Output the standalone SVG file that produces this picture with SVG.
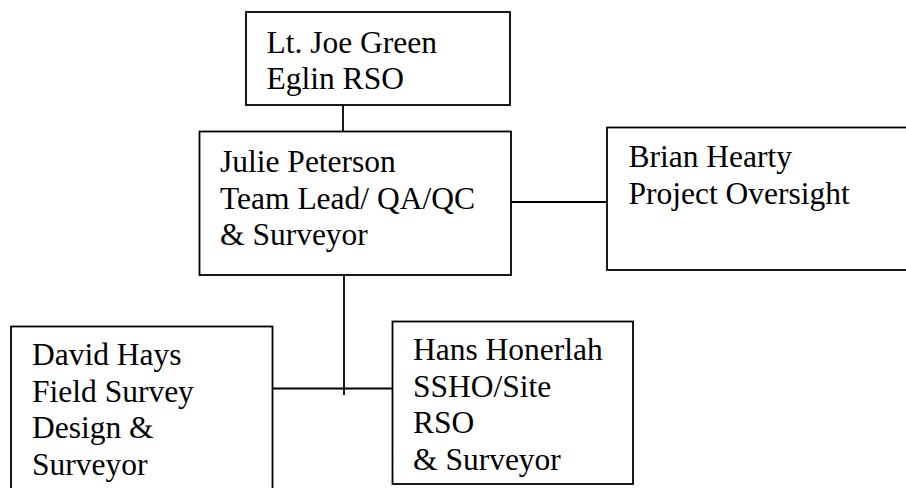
<svg xmlns="http://www.w3.org/2000/svg" width="906" height="488" viewBox="0 0 906 488">
<style>
.box{fill:#fff;stroke:#000;stroke-width:1.8}
.ln{fill:none;stroke:#000;stroke-width:1.8}
text{font-family:"Liberation Serif","Times New Roman",serif;font-size:31.5px;fill:#000}
</style>
<rect width="906" height="488" fill="#fff"/>
<g id="connectors">
<line class="ln" x1="343" y1="105" x2="343" y2="131.5"/>
<line class="ln" x1="511" y1="202" x2="607" y2="202"/>
<line class="ln" x1="344" y1="275" x2="344" y2="395"/>
<line class="ln" x1="272.5" y1="388.5" x2="392.5" y2="388.5"/>
</g>
<g id="joe-green">
<rect class="box" x="246" y="12" width="264" height="93"/>
<text x="266.5" y="52.5">Lt. Joe Green</text>
<text x="266.5" y="89">Eglin RSO</text>
</g>
<g id="julie-peterson">
<rect class="box" x="199.5" y="131.5" width="311.5" height="143.5"/>
<text x="220" y="172">Julie Peterson</text>
<text x="220" y="208.5">Team Lead/ QA/QC</text>
<text x="220" y="245">&amp; Surveyor</text>
</g>
<g id="brian-hearty">
<rect class="box" x="607" y="127.5" width="310" height="142.5"/>
<text x="628.5" y="167">Brian Hearty</text>
<text x="628.5" y="203.5">Project Oversight</text>
</g>
<g id="david-hays">
<rect class="box" x="11" y="326.5" width="261.5" height="180"/>
<text x="32" y="365">David Hays</text>
<text x="32" y="401.5">Field Survey</text>
<text x="32" y="438">Design &amp;</text>
<text x="32" y="474.5">Surveyor</text>
</g>
<g id="hans-honerlah">
<rect class="box" x="392.5" y="321.5" width="240.5" height="162.5"/>
<text x="413" y="360">Hans Honerlah</text>
<text x="413" y="396.5">SSHO/Site</text>
<text x="413" y="433">RSO</text>
<text x="413" y="469.5">&amp; Surveyor</text>
</g>
</svg>
